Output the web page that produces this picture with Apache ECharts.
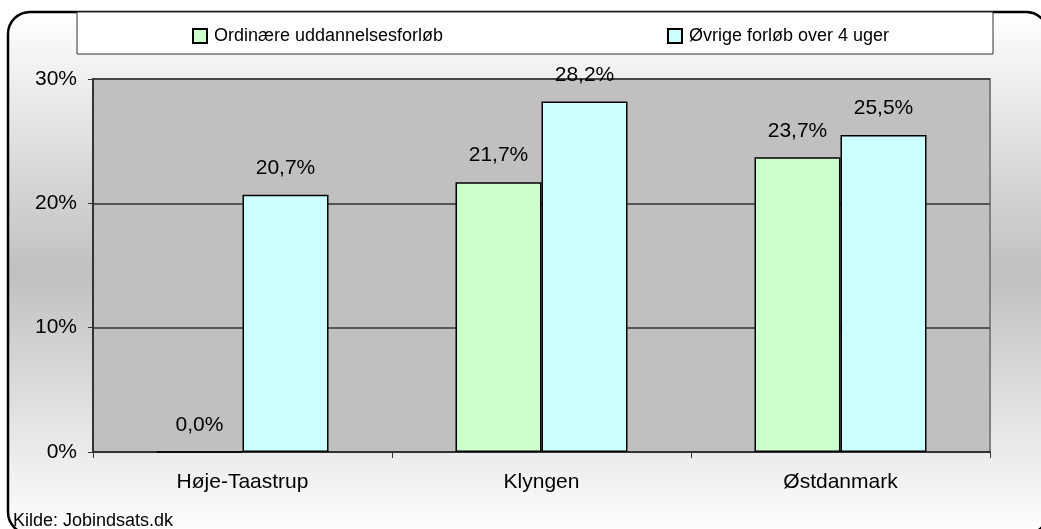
<!DOCTYPE html>
<html>
<head>
<meta charset="utf-8">
<script src="https://cdn.jsdelivr.net/npm/echarts@6/dist/echarts.min.js"></script>
<style>
    html, body { margin: 0; padding: 0; background: #fff; }
    #chart { width: 1041px; height: 529px; }
</style>
</head>
<body>
<div id="chart"></div>
<script>
const categories = ["Høje-Taastrup", "Klyngen", "Østdanmark"];
const ordinaere = [0.0, 21.7, 23.7];
const oevrige = [20.7, 28.2, 25.5];
const seriesNames = ["Ordinære uddannelsesforløb", "Øvrige forløb over 4 uger"];
const yTicks = [0, 10, 20, 30];
const sourceText = "Kilde: Jobindsats.dk";

const textFont = "Liberation Sans, Arial, sans-serif";

const formatPct = (value) => value.toFixed(1).replace(".", ",") + "%";

const chart = echarts.init(document.getElementById("chart"), null, { renderer: "canvas" });

const barLabel = {
    show: true,
    position: "top",
    distance: 16,
    color: "#000",
    fontFamily: textFont,
    fontSize: 21,
    formatter: (p) => formatPct(p.value)
};

const legendBase = {
    top: 22,
    itemWidth: 14,
    itemHeight: 14,
    itemGap: 6,
    icon: "rect",
    selectedMode: false,
    textStyle: { color: "#000", fontFamily: textFont, fontSize: 18, padding: [0, 0, 0, 2] }
};

chart.setOption({
    backgroundColor: "#fff",
    animation: false,
    graphic: [
        {
            type: "rect",
            z: -10,
            shape: { x: 8, y: 12, width: 1040, height: 522, r: 22 },
            style: {
                fill: new echarts.graphic.LinearGradient(0, 0, 0, 1, [
                    { offset: 0, color: "#ffffff" },
                    { offset: 0.5, color: "#c0c0c0" },
                    { offset: 1, color: "#ffffff" }
                ]),
                stroke: "#000",
                lineWidth: 2.5
            }
        },
        {
            type: "rect",
            z: -5,
            shape: { x: 77, y: 12, width: 916, height: 42 },
            style: { fill: "#fff", stroke: "#333", lineWidth: 1 }
        },
        {
            type: "text",
            left: 13,
            top: 512,
            style: { text: sourceText, fill: "#000", font: "18px " + textFont }
        }
    ],
    legend: [
        Object.assign({}, legendBase, { left: 187, data: [seriesNames[0]] }),
        Object.assign({}, legendBase, { left: 662, data: [seriesNames[1]] })
    ],
    grid: {
        left: 93,
        top: 79,
        right: 51,
        bottom: 77,
        show: true,
        backgroundColor: "#c0c0c0",
        borderColor: "#808080",
        borderWidth: 2
    },
    xAxis: {
        type: "category",
        data: categories,
        axisLine: { lineStyle: { color: "#333", width: 2 } },
        axisTick: { show: true, length: 6, lineStyle: { color: "#333" } },
        axisLabel: {
            color: "#000",
            fontFamily: textFont,
            fontSize: 21,
            margin: 20
        }
    },
    yAxis: {
        type: "value",
        min: yTicks[0],
        max: yTicks[yTicks.length - 1],
        interval: yTicks[1] - yTicks[0],
        axisLine: { show: true, lineStyle: { color: "#333", width: 2 } },
        axisTick: { show: true, length: 5, lineStyle: { color: "#333" } },
        splitLine: { lineStyle: { color: "#333", width: 1.5 } },
        axisLabel: {
            color: "#000",
            fontFamily: textFont,
            fontSize: 21,
            margin: 16,
            formatter: "{value}%"
        }
    },
    series: [
        {
            name: seriesNames[0],
            type: "bar",
            data: ordinaere,
            barWidth: 86,
            barGap: "0%",
            itemStyle: { color: "#ccffcc", borderColor: "#000", borderWidth: 1.5 },
            label: barLabel
        },
        {
            name: seriesNames[1],
            type: "bar",
            data: oevrige,
            barWidth: 86,
            barGap: "0%",
            itemStyle: { color: "#ccffff", borderColor: "#000", borderWidth: 1.5 },
            label: barLabel
        }
    ]
});
</script>
</body>
</html>
